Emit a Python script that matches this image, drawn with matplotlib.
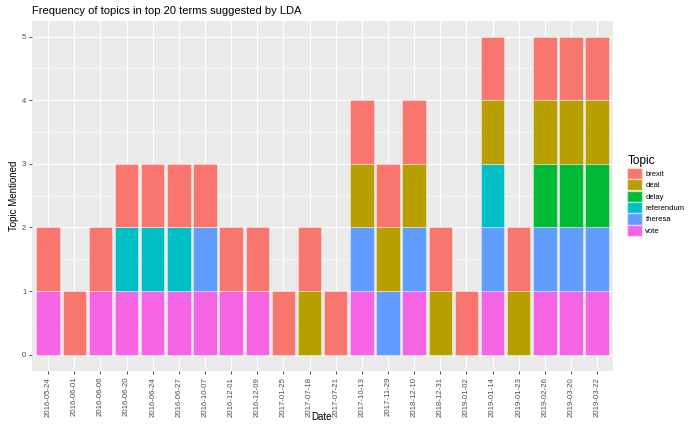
import numpy as np
import matplotlib.pyplot as plt
from matplotlib.patches import Patch

plt.rcParams['font.family'] = ['Liberation Sans', 'DejaVu Sans']

dates = ["2016-05-24", "2016-06-01", "2016-06-06", "2016-06-20", "2016-06-24",
         "2016-06-27", "2016-10-07", "2016-12-01", "2016-12-09", "2017-01-25",
         "2017-07-18", "2017-07-21", "2017-10-13", "2017-11-29", "2018-12-10",
         "2018-12-31", "2019-01-02", "2019-01-14", "2019-01-23", "2019-02-26",
         "2019-03-20", "2019-03-22"]

topics = ["brexit", "deal", "delay", "referendum", "theresa", "vote"]
colors = ["#F8766D", "#B79F00", "#00BA38", "#00BFC4", "#619CFF", "#F564E3"]

# counts per date for each topic
brexit     = [1, 1, 1, 1, 1, 1, 1, 1, 1, 1, 1, 1, 1, 1, 1, 1, 1, 1, 1, 1, 1, 1]
deal       = [0, 0, 0, 0, 0, 0, 0, 0, 0, 0, 1, 0, 1, 1, 1, 1, 0, 1, 1, 1, 1, 1]
delay      = [0, 0, 0, 0, 0, 0, 0, 0, 0, 0, 0, 0, 0, 0, 0, 0, 0, 0, 0, 1, 1, 1]
referendum = [0, 0, 0, 1, 1, 1, 0, 0, 0, 0, 0, 0, 0, 0, 0, 0, 0, 1, 0, 0, 0, 0]
theresa    = [0, 0, 0, 0, 0, 0, 1, 0, 0, 0, 0, 0, 1, 1, 1, 0, 0, 1, 0, 1, 1, 1]
vote       = [1, 0, 1, 1, 1, 1, 1, 1, 1, 0, 0, 0, 1, 0, 1, 0, 0, 1, 0, 1, 1, 1]

series = {"brexit": brexit, "deal": deal, "delay": delay,
          "referendum": referendum, "theresa": theresa, "vote": vote}

fig = plt.figure(figsize=(6.94, 4.24), dpi=100)
ax = fig.add_axes([0.0468, 0.126, 0.8362, 0.825])
ax.set_facecolor("#EBEBEB")

x = np.arange(len(dates))
bottom = np.zeros(len(dates))
# ggplot stacks the first level on top, so draw from the last level up
for name, col in reversed(list(zip(topics, colors))):
    vals = np.array(series[name])
    ax.bar(x, vals, width=0.9, bottom=bottom, color=col,
           edgecolor=(1, 1, 1, 0.45), linewidth=0.6, zorder=3)
    bottom += vals

ax.set_xlim(-0.6, len(dates) - 0.4)
ax.set_ylim(-0.25, 5.25)
ax.set_xticks(x)
ax.set_xticklabels(dates, rotation=90, fontsize=5.6, color="#4D4D4D")
ax.set_yticks(range(6))
ax.set_yticks(np.arange(0.5, 5, 1), minor=True)
ax.tick_params(axis='y', labelsize=5.5, labelcolor="#4D4D4D")
ax.tick_params(which='major', color="#333333", length=2.5, width=0.6, pad=2)
ax.tick_params(which='minor', length=0)

ax.grid(which='major', color="white", linewidth=0.9, zorder=0)
ax.grid(which='minor', axis='y', color="white", linewidth=0.45, zorder=0)
ax.set_axisbelow(True)
for s in ax.spines.values():
    s.set_visible(False)

# x label sits right at the bottom edge, as in the original
fig.text(322 / 694, 0.004, "Date", fontsize=7, ha="center", va="bottom")
ax.set_ylabel("Topic Mentioned", fontsize=7, labelpad=2)
fig.text(0.0468, 0.975, "Frequency of topics in top 20 terms suggested by LDA",
         fontsize=8, va="center", ha="left")

handles = [Patch(facecolor=c, edgecolor=(1, 1, 1, 0.45), label=t)
           for t, c in zip(topics, colors)]
leg = ax.legend(handles=handles, title="Topic", loc="center left",
                bbox_to_anchor=(1.02, 0.50), frameon=False, fontsize=5.5,
                title_fontsize=8.5, handlelength=1.85, handleheight=1.85,
                labelspacing=0.05, handletextpad=0.5, borderaxespad=0)
leg._legend_box.align = "left"

fig.savefig("out.png", dpi=100)
